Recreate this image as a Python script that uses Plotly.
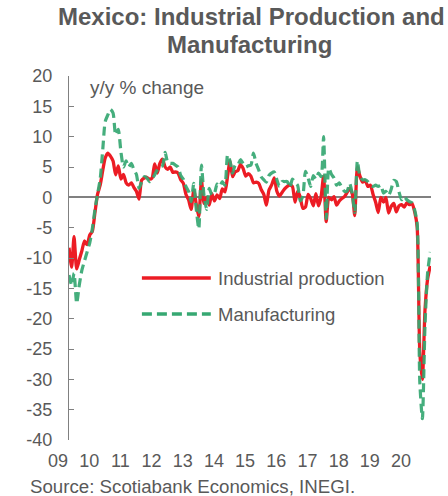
import plotly.graph_objects as go
import pandas as pd

# ---------------- data ----------------
months = pd.date_range("2009-01-01", periods=140, freq="MS")

industrial_production = [
    # 2009
    -8.3, -11.5, -6.5, -11.8, -10.3, -8.8, -7.2, -7.8, -6.2, -5.6, -2.5, 0.5,
    # 2010
    2.0, 4.5, 6.5, 7.3, 6.8, 6.0, 3.7, 5.2, 3.0, 3.8, 2.4, 2.0,
    # 2011
    2.4, 1.6, 1.0, -0.3, 2.8, 3.2, 3.3, 3.0, 3.2, 5.5, 4.0, 5.6,
    # 2012
    6.3, 5.0, 4.6, 5.0, 4.1, 4.2, 4.0, 2.9, 2.3, 0.5, -0.4, -2.0,
    # 2013
    1.2, -1.3, -3.2, 2.9, -1.0, 0.0, -1.3, 0.6, -0.6, 0.4, -0.2, 1.4,
    # 2014
    0.9, 3.5, 6.0, 3.4, 4.2, 4.4, 5.4, 4.8, 3.5, 3.9, 3.5, 2.4,
    # 2015
    2.5, 2.3, 1.3, 0.5, -1.3, 1.2, 2.0, 3.2, 1.0, 0.2, 0.8, 1.4,
    # 2016
    1.8, 2.0, 1.8, -0.8, 1.0, 0.0, -1.8, -1.6, 0.5, -0.2, -1.4, 0.6,
    # 2017
    -1.4, 0.2, 3.5, -4.0, 0.0, -0.4, 0.1, -1.3, -0.6, -0.2, 0.1, 0.8,
    # 2018
    1.5, 0.5, -3.0, 5.0, 3.5, 2.5, 2.8, 1.8, 2.0, 0.5, -0.8, -2.5,
    # 2019
    0.0, -0.8, 0.0, -2.6, -1.5, -1.0, -2.4, -1.4, -1.2, -1.6, -0.9, -1.2,
    # 2020
    -1.0, -2.4, -4.9, -25.5, -30.0, -18.5, -13.5, -11.3,
]

manufacturing = [
    # 2009
    -12.8, -14.5, -12.5, -17.5, -14.5, -12.0, -10.5, -9.0, -7.5, -5.2, -2.0, 0.5,
    # 2010
    3.0, 8.0, 12.5, 13.6, 14.5, 13.9, 10.3, 11.2, 7.5, 5.0, 6.0, 5.0,
    # 2011
    5.6, 4.5, 3.8, 1.5, 2.5, 3.4, 3.2, 2.6, 3.0, 3.7, 4.5, 5.0,
    # 2012
    5.2, 7.4, 5.8, 5.6, 5.6, 5.3, 5.0, 3.6, 3.0, 1.8, 1.0, -0.7,
    # 2013
    2.3, -2.2, -5.2, 5.3, 0.3, -2.0, 1.5, 0.4, 0.7, 2.2, 1.8, 2.6,
    # 2014
    2.0, 7.0, 6.0, 4.0, 5.3, 5.3, 6.2, 5.6, 5.0, 5.2, 5.3, 7.3,
    # 2015
    5.6, 4.5, 3.4, 2.9, 2.5, 3.6, 4.0, 4.2, 2.9, 1.8, 2.6, 2.6,
    # 2016
    2.6, 1.6, 3.0, 2.5, 2.0, -0.6, 0.2, 4.3, 3.2, 1.8, 3.6, 3.0,
    # 2017
    4.0, 3.4, 10.0, -3.5, 4.8, 3.8, 3.2, 2.0, 2.4, 1.6, 1.0, 1.0,
    # 2018
    2.3, 0.5, -2.5, 6.0, 3.4, 2.9, 2.9, 2.6, 2.0, 1.8, 2.0, 1.8,
    # 2019
    2.0, 0.7, 1.0, 0.3, 1.3, 2.8, 2.6, 0.9, -0.4, 0.1, -0.4, -0.7,
    # 2020
    -0.9, -2.1, -4.3, -30.5, -36.5, -21.0, -12.5, -9.0,
]

year_ticks = pd.date_range("2009-01-01", "2020-01-01", freq="YS")
year_labels = ["09", "10", "11", "12", "13", "14", "15", "16", "17", "18", "19", "20"]
y_ticks = list(range(-40, 21, 5))
y_labels = [str(v) for v in y_ticks]

series_names = ["Industrial production", "Manufacturing"]

# ---------------- styling ----------------
RED = "#EC1C24"
GREEN = "#36A872"
TXT = "#595959"
AX = "#808080"
FONT = "Liberation Sans, Arial, sans-serif"

W, H = 448, 496
L, R, T, B = 69, 16.5, 76, 56
PW, PH = W - L - R, H - T - B


def px(xp):
    return (xp - L) / PW


def py(yp):
    return (H - B - yp) / PH


fig = go.Figure()
fig.add_trace(go.Scatter(
    x=months, y=industrial_production, mode="lines", name=series_names[0],
    line=dict(color=RED, width=3.3, shape="spline", smoothing=0.6),
    showlegend=False,
))
fig.add_trace(go.Scatter(
    x=months, y=manufacturing, mode="lines", name=series_names[1],
    line=dict(color=GREEN, width=3.2, dash="9px,5px", shape="spline", smoothing=0.6),
    opacity=0.92, showlegend=False,
))

fig.update_layout(
    width=W, height=H,
    margin=dict(l=L, r=R, t=T, b=B),
    paper_bgcolor="white", plot_bgcolor="white",
    font=dict(family=FONT, size=18, color=TXT),
    xaxis=dict(
        range=["2009-01-01", "2020-08-10"],
        tickvals=list(year_ticks), ticktext=year_labels,
        ticklabelshift=-11, ticklabelstandoff=8,
        showline=False, ticks="", showgrid=False, zeroline=False,
        tickfont=dict(size=18, color=TXT),
    ),
    yaxis=dict(
        range=[-40, 20], tickvals=y_ticks, ticktext=y_labels,
        showline=True, linecolor=AX, linewidth=1.3,
        ticks="inside", ticklen=5, tickcolor=AX, tickwidth=1.3,
        showgrid=False, zeroline=True, zerolinecolor=AX, zerolinewidth=1.5,
        ticklabelstandoff=12,
        tickfont=dict(size=18, color=TXT),
    ),
)

# legend drawn as line samples + labels
fig.add_shape(type="line", xref="paper", yref="paper",
              x0=px(142), x1=px(211), y0=py(278), y1=py(278),
              line=dict(color=RED, width=3.5))
fig.add_shape(type="line", xref="paper", yref="paper",
              x0=px(142), x1=px(211), y0=py(314), y1=py(314),
              line=dict(color=GREEN, width=3.5, dash="10px,5px"))
for name, yy in zip(series_names, [278, 314]):
    fig.add_annotation(text=name, xref="paper", yref="paper",
                       x=px(216), y=py(yy), xanchor="left", yanchor="middle",
                       showarrow=False, font=dict(size=18.5, color=TXT, family=FONT))

fig.add_annotation(text="y/y % change", xref="paper", yref="paper",
                   x=px(88), y=py(87), xanchor="left", yanchor="middle",
                   showarrow=False, font=dict(size=19, color=TXT, family=FONT))

fig.add_annotation(text="<b>Mexico: Industrial Production and</b>", xref="paper", yref="paper",
                   x=px(252), y=py(17), xanchor="center", yanchor="middle",
                   showarrow=False, font=dict(size=24, color=TXT, family=FONT))
fig.add_annotation(text="<b>Manufacturing</b>", xref="paper", yref="paper",
                   x=px(250), y=py(44), xanchor="center", yanchor="middle",
                   showarrow=False, font=dict(size=24, color=TXT, family=FONT))

fig.add_annotation(text="Source: Scotiabank Economics, INEGI.", xref="paper", yref="paper",
                   x=px(28), y=py(486), xanchor="left", yanchor="middle",
                   showarrow=False, font=dict(size=18.7, color=TXT, family=FONT))

fig.write_html("out.html")
